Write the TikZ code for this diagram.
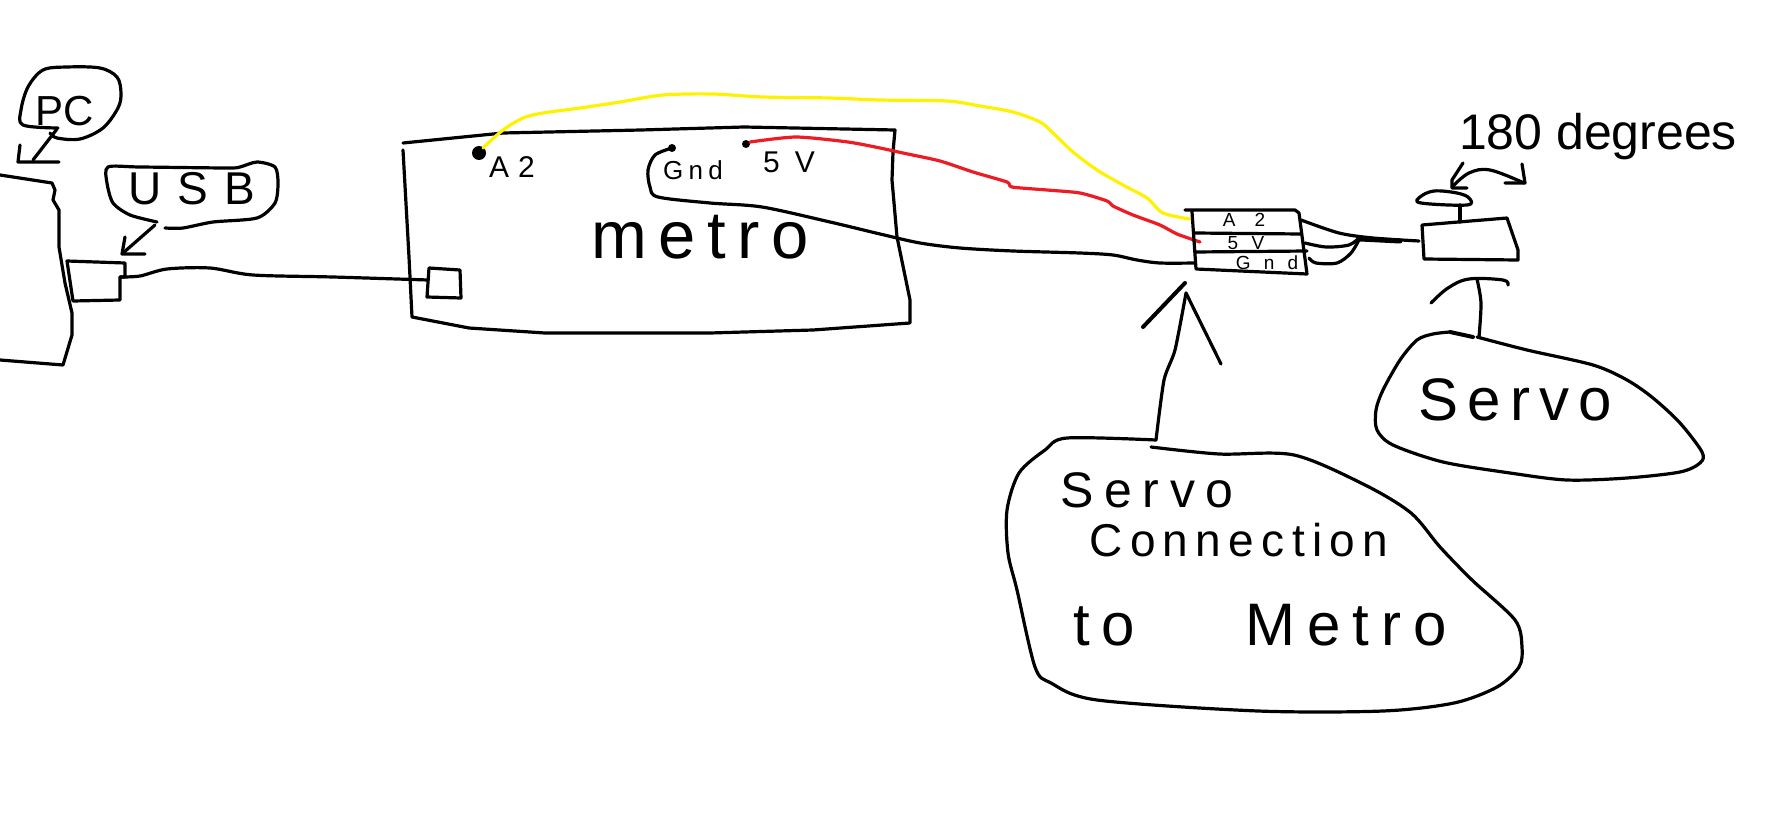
\documentclass[tikz,border=0pt]{standalone}
\usepackage{fontspec}
\setmainfont{Liberation Sans}
\definecolor{wireyellow}{HTML}{FFF200}
\definecolor{wirered}{HTML}{ED1C24}
\newcommand{\sketchfont}[2]{\fontsize{#1}{#1}\selectfont\addfontfeature{LetterSpace=#2}}

\begin{document}
\begin{tikzpicture}[
    x=1pt, y=-1pt,
    sketch/.style={line width=3.2pt, line cap=round, line join=round},
    thickstroke/.style={line width=5pt, line cap=round},
    handtext/.style={inner sep=0pt, text=black}
]
\useasboundingbox (0,0) rectangle (1780,816);

% =========================================================
% PC
% =========================================================

\draw[sketch] (0,175) -- (52,183) -- (55,190) -- (53,200) -- (59,210) -- (59,247) -- (65,283) -- (72,313) -- (72,335) -- (63,365) -- (0,360);
\draw[sketch] plot[smooth, tension=.55] coordinates {(58,128) (23,125) (21,110) (28,87) (43,70) (67,67) (100,68) (117,77) (121,93) (118,108) (103,128) (80,139) (57,138) (50,133)};
\draw[sketch] (57,129) -- (33,160);
\draw[sketch] (20,145) -- (18,162) -- (59,162);
\node[handtext, font=\sketchfont{42}{0}] (pclabel) at (65,111) {PC};

% =========================================================
% USB
% =========================================================

\draw[sketch] plot[smooth, tension=.45] coordinates {(157,222) (130,215) (113,203) (107,183) (108,167) (140,167) (227,168) (240,167) (257,162) (275,167) (278,183) (275,203) (257,218) (213,222) (183,228) (165,228)};
\draw[sketch] (155,225) -- (123,253);
\draw[sketch] (125,237) -- (122,254) -- (145,254);
\node[handtext, font=\sketchfont{46}{35}] (usblabel) at (192,189) {USB};

\draw[sketch] (120,277) -- (125,277) -- (125,263) -- (67,261) -- (73,301) -- (120,300) -- cycle;
\draw[sketch] plot[smooth, tension=.5] coordinates {(120,277) (140,276) (167,269) (210,268) (253,275) (333,277) (428,280)};

% =========================================================
% Metro
% =========================================================

\draw[sketch] (403,143) -- (503,133) -- (641,130) -- (744,127) -- (895,130) -- (893,152) -- (892,180) -- (897,237) -- (910,300) -- (910,323) -- (813,330) -- (710,333) -- (545,333) -- (469,328) -- (412,317) -- (409,257) -- (403,150);
\draw[sketch] (429,268) -- (460,270) -- (461,298) -- (427,297) -- cycle;

\node[handtext, font=\sketchfont{67}{17}] (metrolabel) at (700,237) {metro};
\node[handtext, font=\sketchfont{30}{30}] (pina) at (512,167) {A2};
\node[handtext, font=\sketchfont{26}{20}] (pingnd) at (693,170) {Gnd};
\node[handtext, font=\sketchfont{30}{50}] (pinv) at (789,162) {5V};

\fill (479,153) circle (7pt);
\fill (672,148) circle (4pt);
\fill (746,144) circle (4pt);

% =========================================================
% Wires
% =========================================================

\draw[sketch, wireyellow] plot[smooth, tension=.5] coordinates {(483,148) (503,130) (523,118) (543,113) (580,108) (620,102) (663,95) (713,94) (763,97) (830,98) (880,100) (947,101) (980,106) (1013,112) (1040,122) (1053,133) (1073,152) (1097,170) (1123,185) (1147,198) (1163,213) (1190,219)};
\draw[sketch, wirered] plot[smooth, tension=.4] coordinates {(750,142) (796,137) (848,142) (880,148) (903,153) (940,161) (973,172) (1007,182) (1012,187) (1047,190) (1080,193) (1107,201) (1113,206) (1133,215) (1160,225) (1177,234) (1200,242)};
\draw[sketch] plot[smooth, tension=.5] coordinates {(672,148) (655,155) (648,170) (650,187) (658,197) (710,203) (762,207) (830,222) (880,234) (920,243) (960,248) (1013,251) (1080,253) (1113,255) (1137,260) (1160,263) (1195,263)};

% =========================================================
% Servo connection
% =========================================================

\draw[sketch] (1185,210) -- (1295,210) -- (1299,213) -- (1307,274) -- (1196,269) -- (1192,212);
\draw[sketch] (1195,233) -- (1301,234);
\draw[sketch] (1195,252) -- (1307,251);
\node[handtext, font=\sketchfont{19}{100}] (conna) at (1244,220) {A2};
\node[handtext, font=\sketchfont{19}{70}] (connv) at (1246,243) {5V};
\node[handtext, font=\sketchfont{19}{70}] (conngnd) at (1267,263) {Gnd};

\draw[sketch] plot[smooth, tension=.5] coordinates {(1301,220) (1339,233) (1373,238) (1419,241)};
\draw[sketch] plot[smooth, tension=.5] coordinates {(1305,243) (1326,247) (1349,245) (1360,237)};
\draw[sketch] plot[smooth, tension=.5] coordinates {(1309,258) (1316,263) (1337,263) (1351,253) (1360,238)};
\draw[thickstroke] (1360,239) -- (1400,241);

% =========================================================
% Servo
% =========================================================

\draw[sketch] (1422,225) -- (1507,218) -- (1518,250) -- (1518,260) -- (1424,259) -- cycle;
\draw[sketch] (1460,222) -- (1460,205);
\draw[sketch] plot[smooth cycle, tension=.6] coordinates {(1421,203) (1420,197) (1434,191) (1457,193) (1469,198) (1467,205)};
\draw[sketch] plot[smooth, tension=.6] coordinates {(1452,187) (1469,173) (1490,170) (1524,183)};
\draw[sketch] (1463,163) -- (1452,180) -- (1452,188) -- (1467,188);
\draw[sketch] (1522,164) -- (1525,183) -- (1505,183);
\node[handtext, font=\sketchfont{50}{0}] (degrees) at (1598,137) {180 degrees};

\draw[sketch] plot[smooth, tension=.6] coordinates {(1431,303) (1448,288) (1469,279) (1503,280) (1508,285)};
\draw[sketch] plot[smooth, tension=.5] coordinates {(1477,279) (1481,303) (1479,337)};
\draw[thickstroke, line width=4pt] (1450,332) -- (1473,337);
\draw[sketch] plot[smooth, tension=.5] coordinates {(1477,337) (1527,350) (1593,365) (1627,380) (1653,398) (1680,423) (1702,452) (1700,463) (1680,472) (1627,478) (1567,480) (1510,473) (1443,462) (1393,445) (1377,430) (1376,410) (1383,390) (1400,360) (1417,340) (1433,334) (1450,332)};
\node[handtext, font=\sketchfont{60}{15}] (servolabel) at (1515,400) {Servo};

% =========================================================
% Servo connection note
% =========================================================

\draw[thickstroke, line width=4pt] (1185,283) -- (1143,327);
\draw[sketch] (1186,293) -- (1221,364);
\draw[sketch] plot[smooth, tension=.4] coordinates {(1186,293) (1175,350) (1164,380) (1156,440)};
\draw[sketch] plot[smooth, tension=.5] coordinates {(1156,440) (1067,438) (1045,450) (1019,473) (1007,510) (1008,553) (1017,590) (1035,667) (1051,683) (1097,700) (1258,711) (1383,711) (1454,703) (1497,687) (1519,667) (1522,647) (1515,620) (1472,580) (1440,547) (1411,513) (1365,485) (1294,455) (1219,454) (1151,447)};
\node[handtext, font=\sketchfont{50}{21}] (notea) at (1147,490) {Servo};
\node[handtext, font=\sketchfont{46}{16}] (noteb) at (1239,540) {Connection};
\node[handtext, font=\sketchfont{60}{20}] (notec) at (1260,625) {to\hspace{110pt}Metro};

\end{tikzpicture}
\end{document}
